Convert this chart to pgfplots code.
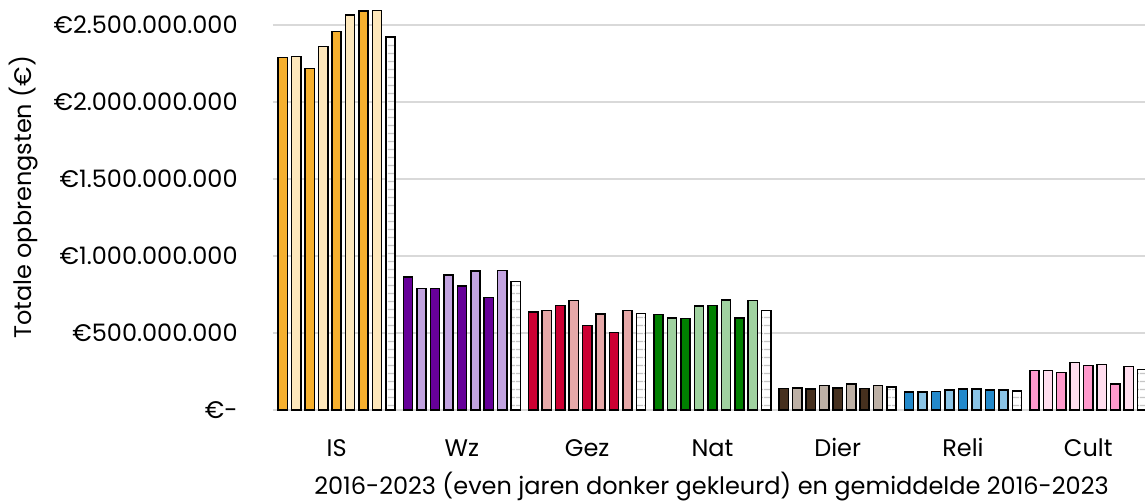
\documentclass[border=0pt]{standalone}
\usepackage{fontspec}
\setmainfont{Poppins}
\usepackage{pgfplots}
\pgfplotsset{compat=1.18}
\usetikzlibrary{patterns.meta}

\definecolor{isD}{HTML}{F6B02E}
\definecolor{isL}{HTML}{FDE7BB}
\definecolor{wzD}{HTML}{660099}
\definecolor{wzL}{HTML}{C2A3E0}
\definecolor{gezD}{HTML}{CC0033}
\definecolor{gezL}{HTML}{E6A8A8}
\definecolor{natD}{HTML}{008000}
\definecolor{natL}{HTML}{A0D2A0}
\definecolor{dierD}{HTML}{46301E}
\definecolor{dierL}{HTML}{BDB0A5}
\definecolor{reliD}{HTML}{2389CB}
\definecolor{reliL}{HTML}{8AC4E6}
\definecolor{cultD}{HTML}{FF99CC}
\definecolor{cultL}{HTML}{FFDDEE}
\definecolor{gridgray}{HTML}{D9D9D9}

\begin{document}
\begin{tikzpicture}
\begin{axis}[
  at={(0,0)}, anchor=south west,
  scale only axis, width=436pt, height=205pt,
  xmin=-0.508, xmax=6.453, ymin=0, ymax=2662,
  clip=true,
  font=\fontsize{12}{14}\selectfont,
  ytick={0,500,1000,1500,2000,2500},
  yticklabels={€-,€500.000.000,€1.000.000.000,€1.500.000.000,€2.000.000.000,€2.500.000.000},
  xtick={0,1,2,3,4,5,6},
  xticklabels={IS,Wz,Gez,Nat,Dier,Reli,Cult},
  yticklabel style={anchor=east, inner sep=0pt, xshift=-17.5pt},
  xticklabel style={anchor=base, inner sep=0pt, yshift=-23pt},
  ymajorgrids, grid style={draw=gridgray, line width=0.75pt},
  axis line style={draw=none},
  major tick length=0pt,
  xlabel={2016-2023 (even jaren donker gekleurd) en gemiddelde 2016-2023},
  ylabel={Totale opbrengsten (€)},
  every axis x label/.style={at={(rel axis cs:0.5,0)}, anchor=base, xshift=1.25pt, yshift=-42pt},
  every axis y label/.style={at={(rel axis cs:0,0.5)}, anchor=center, xshift=-124.5pt, yshift=3.75pt, rotate=90},
  mybar/.style={ybar, bar width=4.6pt, bar shift=0pt, draw=black, line width=0.75pt},
]
% IS (g=0)
\addplot[mybar, fill=isD] coordinates {(-0.43,2288) (-0.215,2218) (0,2456) (0.215,2589)};
\addplot[mybar, fill=isL] coordinates {(-0.3225,2294) (-0.1075,2359) (0.1075,2565) (0.3225,2595)};
% Wz (g=1)
\addplot[mybar, fill=wzD] coordinates {(0.57,862) (0.785,790) (1,805) (1.215,732)};
\addplot[mybar, fill=wzL] coordinates {(0.6775,790) (0.8925,877) (1.1075,903) (1.3225,905)};
% Gez (g=2)
\addplot[mybar, fill=gezD] coordinates {(1.57,636) (1.785,677) (2,550) (2.215,502)};
\addplot[mybar, fill=gezL] coordinates {(1.6775,645) (1.8925,712) (2.1075,623) (2.3225,647)};
% Nat (g=3)
\addplot[mybar, fill=natD] coordinates {(2.57,619) (2.785,593) (3,680) (3.215,597)};
\addplot[mybar, fill=natL] coordinates {(2.6775,597) (2.8925,675) (3.1075,714) (3.3225,710)};
% Dier (g=4)
\addplot[mybar, fill=dierD] coordinates {(3.57,141) (3.785,136) (4,144) (4.215,141)};
\addplot[mybar, fill=dierL] coordinates {(3.6775,144) (3.8925,158) (4.1075,169) (4.3225,158)};
% Reli (g=5)
\addplot[mybar, fill=reliD] coordinates {(4.57,117) (4.785,121) (5,136) (5.215,130)};
\addplot[mybar, fill=reliL] coordinates {(4.6775,117) (4.8925,130) (5.1075,136) (5.3225,130)};
% Cult (g=6)
\addplot[mybar, fill=cultD] coordinates {(5.57,258) (5.785,242) (6,288) (6.215,169)};
\addplot[mybar, fill=cultL] coordinates {(5.6775,258) (5.8925,307) (6.1075,294) (6.3225,281)};
% Gemiddelde 2016-2023
\addplot[mybar, fill=white, postaction={pattern={Lines[angle=0,distance=4pt,line width=0.75pt]}, pattern color=gray!45}]
  coordinates {(0.43,2421) (1.43,833) (2.43,625) (3.43,645) (4.43,149) (5.43,125) (6.43,262)};
\end{axis}
\pgfresetboundingbox
\useasboundingbox (-136.5pt,-45pt) rectangle (436pt,205pt);
\end{tikzpicture}
\end{document}
